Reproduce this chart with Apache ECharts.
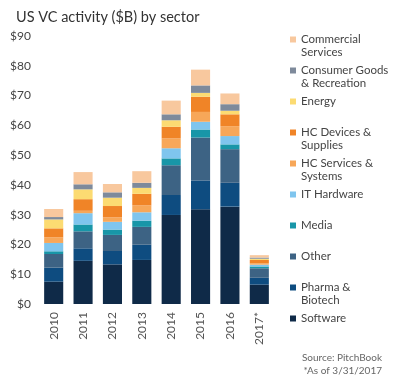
<!DOCTYPE html>
<html>
<head>
<meta charset="utf-8">
<script src="https://cdn.jsdelivr.net/npm/echarts@6/dist/echarts.min.js"></script>
<style>
html,body{margin:0;padding:0;background:#fff;}
#chart{width:400px;height:380px;}
</style>
</head>
<body>
<div id="chart"></div>
<script>
const categories = ['2010', '2011', '2012', '2013', '2014', '2015', '2016', '2017*'];
const yTicks = [0, 10, 20, 30, 40, 50, 60, 70, 80, 90];

const software     = [7.5, 14.5, 13.3, 14.8, 29.9, 31.8, 32.7, 6.5];
const pharma       = [4.7, 4.2, 4.5, 5.1, 6.7, 9.7, 8.0, 2.3];
const other        = [4.6, 5.7, 5.4, 6.0, 10.0, 14.4, 11.3, 3.2];
const media        = [0.9, 2.3, 1.8, 2.1, 2.3, 2.7, 1.6, 0.6];
const itHardware   = [2.8, 3.8, 2.6, 2.8, 3.4, 2.6, 2.8, 0.6];
const hcServices   = [1.9, 0.8, 1.5, 2.3, 3.3, 3.3, 3.3, 0.5];
const hcDevices    = [3.0, 3.9, 3.8, 3.9, 3.9, 5.1, 4.0, 1.1];
const energy       = [3.0, 3.3, 2.8, 2.0, 2.2, 1.3, 1.2, 0.4];
const consumer     = [0.8, 1.7, 1.8, 1.7, 2.0, 2.5, 2.2, 0.4];
const commercial   = [2.7, 4.1, 2.8, 3.9, 4.6, 5.3, 3.6, 0.8];

const seriesDefs = [
  { name: 'Software', data: software, color: '#0f2a48' },
  { name: 'Pharma &\nBiotech', data: pharma, color: '#0e4c80' },
  { name: 'Other', data: other, color: '#3d6384' },
  { name: 'Media', data: media, color: '#1896a8' },
  { name: 'IT Hardware', data: itHardware, color: '#7fc5ee' },
  { name: 'HC Services &\nSystems', data: hcServices, color: '#f7a759' },
  { name: 'HC Devices &\nSupplies', data: hcDevices, color: '#f08427' },
  { name: 'Energy', data: energy, color: '#fcdb72' },
  { name: 'Consumer Goods\n& Recreation', data: consumer, color: '#7e8a9b' },
  { name: 'Commercial\nServices', data: commercial, color: '#f8c89e' }
];

const FONT = 'Lato, "Open Sans", sans-serif';

const chart = echarts.init(document.getElementById('chart'), null, { renderer: 'canvas' });

const legendData = seriesDefs.slice().reverse().map(s => s.name);

chart.setOption({
  animation: false,
  backgroundColor: '#ffffff',
  title: {
    text: 'US VC activity ($B) by sector',
    left: 11,
    top: 5,
    textStyle: { fontFamily: FONT, fontSize: 14.5, fontWeight: 'normal', color: '#333' }
  },
  legend: {
    orient: 'vertical',
    left: 290,
    top: 20,
    padding: 0,
    itemGap: -8,
    itemWidth: 6,
    itemHeight: 6,
    icon: 'rect',
    selectedMode: false,
    data: legendData,
    formatter: function (name) {
      return ' \n' + (name.indexOf('\n') >= 0 ? name : name + '\n ');
    },
    textStyle: {
      fontFamily: FONT,
      fontSize: 11.5,
      lineHeight: 13,
      color: '#444'
    }
  },
  grid: { left: 39, right: 126, top: 36, bottom: 76, containLabel: false },
  xAxis: {
    type: 'category',
    data: categories,
    axisLine: { show: false },
    axisTick: { show: false },
    axisLabel: {
      rotate: 90,
      margin: 8,
      fontFamily: FONT,
      fontSize: 12,
      color: '#555'
    }
  },
  yAxis: {
    type: 'value',
    min: yTicks[0],
    max: yTicks[yTicks.length - 1],
    interval: yTicks[1] - yTicks[0],
    axisLine: { show: false },
    axisTick: { show: false },
    splitLine: { show: false },
    axisLabel: {
      margin: 8,
      fontFamily: FONT,
      fontSize: 12,
      color: '#444',
      formatter: v => '$' + v
    }
  },
  graphic: [
    {
      type: 'text', right: 18, top: 353,
      style: { text: 'Source: PitchBook', fontFamily: FONT, fontSize: 10, fill: '#666', align: 'right' }
    },
    {
      type: 'text', right: 18, top: 366,
      style: { text: '*As of 3/31/2017', fontFamily: FONT, fontSize: 10, fill: '#666', align: 'right' }
    }
  ],
  series: seriesDefs.map(s => ({
    name: s.name,
    type: 'bar',
    stack: 'total',
    barWidth: '65%',
    data: s.data,
    itemStyle: { color: s.color },
    emphasis: { disabled: true }
  }))
});
</script>
</body>
</html>
